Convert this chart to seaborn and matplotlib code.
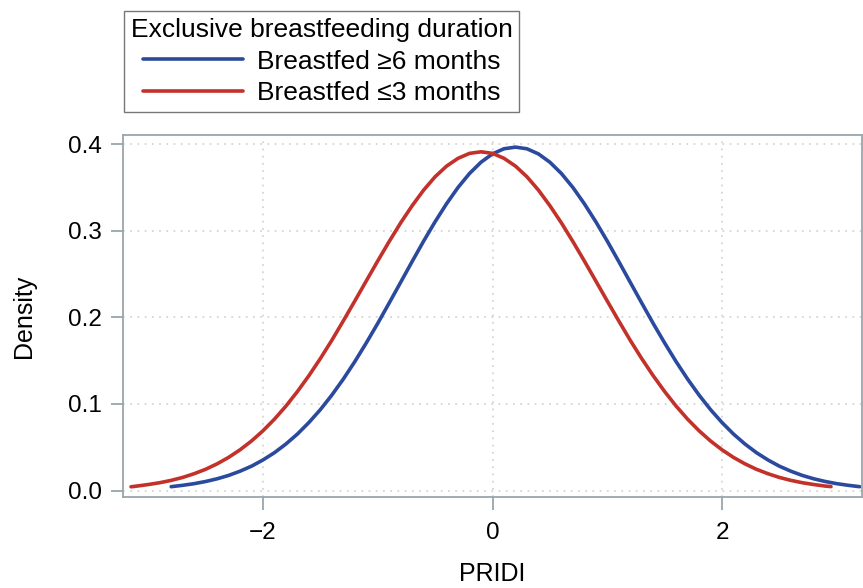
import pandas as pd
import matplotlib.pyplot as plt
import seaborn as sns
from matplotlib.lines import Line2D

# Density curves (PRIDI vs Density)
pridi_6m = [-2.8, -2.7, -2.6, -2.5, -2.4, -2.3, -2.2, -2.1, -2.0, -1.9, -1.8, -1.7, -1.6,
            -1.5, -1.4, -1.3, -1.2, -1.1, -1.0, -0.9, -0.8, -0.7, -0.6, -0.5, -0.4, -0.3,
            -0.2, -0.1, 0.0, 0.1, 0.2, 0.3, 0.4, 0.5, 0.6, 0.7, 0.8, 0.9, 1.0, 1.1, 1.2,
            1.3, 1.4, 1.5, 1.6, 1.7, 1.8, 1.9, 2.0, 2.1, 2.2, 2.3, 2.4, 2.5, 2.6, 2.7, 2.8,
            2.9, 3.0, 3.1, 3.2]
density_6m = [0.0044, 0.0060, 0.0079, 0.0104, 0.0135, 0.0174, 0.0223, 0.0281, 0.0353, 0.0437,
              0.0537, 0.0652, 0.0785, 0.0934, 0.1102, 0.1287, 0.1488, 0.1704, 0.1930, 0.2166,
              0.2405, 0.2645, 0.2880, 0.3104, 0.3312, 0.3500, 0.3661, 0.3791, 0.3887, 0.3946,
              0.3965, 0.3946, 0.3887, 0.3791, 0.3661, 0.3500, 0.3312, 0.3104, 0.2880, 0.2645,
              0.2405, 0.2166, 0.1930, 0.1704, 0.1488, 0.1287, 0.1102, 0.0934, 0.0785, 0.0652,
              0.0537, 0.0437, 0.0353, 0.0281, 0.0223, 0.0174, 0.0135, 0.0104, 0.0079, 0.0060,
              0.0044]

pridi_3m = [-3.15, -3.1, -3.0, -2.9, -2.8, -2.7, -2.6, -2.5, -2.4, -2.3, -2.2, -2.1, -2.0,
            -1.9, -1.8, -1.7, -1.6, -1.5, -1.4, -1.3, -1.2, -1.1, -1.0, -0.9, -0.8, -0.7,
            -0.6, -0.5, -0.4, -0.3, -0.2, -0.1, 0.0, 0.1, 0.2, 0.3, 0.4, 0.5, 0.6, 0.7, 0.8,
            0.9, 1.0, 1.1, 1.2, 1.3, 1.4, 1.5, 1.6, 1.7, 1.8, 1.9, 2.0, 2.1, 2.2, 2.3, 2.4,
            2.5, 2.6, 2.7, 2.8, 2.9, 2.95]
density_3m = [0.0043, 0.0051, 0.0069, 0.0090, 0.0117, 0.0151, 0.0194, 0.0245, 0.0308, 0.0382,
              0.0470, 0.0572, 0.0690, 0.0824, 0.0975, 0.1143, 0.1326, 0.1524, 0.1735, 0.1959,
              0.2188, 0.2420, 0.2651, 0.2876, 0.3091, 0.3289, 0.3469, 0.3623, 0.3746, 0.3836,
              0.3893, 0.3911, 0.3893, 0.3836, 0.3746, 0.3623, 0.3469, 0.3289, 0.3091, 0.2876,
              0.2651, 0.2420, 0.2188, 0.1959, 0.1735, 0.1524, 0.1326, 0.1143, 0.0975, 0.0824,
              0.0690, 0.0572, 0.0470, 0.0382, 0.0308, 0.0245, 0.0194, 0.0151, 0.0117, 0.0090,
              0.0069, 0.0051, 0.0045]

groups = ['Breastfed \u22656 months', 'Breastfed \u22643 months']
colors = ['#2b4a9e', '#c3312b']
x_ticks = [-2, 0, 2]
y_ticks = [0.0, 0.1, 0.2, 0.3, 0.4]

df = pd.concat([
    pd.DataFrame({'PRIDI': pridi_6m, 'Density': density_6m, 'group': groups[0]}),
    pd.DataFrame({'PRIDI': pridi_3m, 'Density': density_3m, 'group': groups[1]}),
])

sns.set_style('white')
plt.rcParams['font.family'] = ['Liberation Sans', 'DejaVu Sans']
plt.rcParams['text.color'] = 'black'
plt.rcParams['axes.labelcolor'] = 'black'

fig = plt.figure(figsize=(8.63, 5.88), dpi=100)
ax = fig.add_axes([123 / 863, 1 - 497 / 588, 739 / 863, 362 / 588])

sns.lineplot(data=df, x='PRIDI', y='Density', hue='group', hue_order=groups,
             palette=colors, linewidth=2.6, sort=False, estimator=None, ax=ax,
             legend=False, solid_joinstyle='round')

ax.set_xlim(-3.22, 3.22)
ax.set_ylim(-0.0075, 0.4105)
ax.set_xticks(x_ticks)
ax.set_xticklabels(['\u22122', '0', '2'])
ax.set_yticks(y_ticks)
ax.set_yticklabels([f'{v:.1f}' for v in y_ticks])
ax.grid(True, color='#d6d6d6', linestyle=(0, (1, 3)), linewidth=1.3)
ax.set_axisbelow(True)

for sp in ax.spines.values():
    sp.set_color('#9aa5ad')
    sp.set_linewidth(1.3)
ax.tick_params(axis='both', length=9, width=1.3, color='#9aa5ad', labelsize=17.5,
               labelcolor='black', direction='out', bottom=True, left=True)
ax.tick_params(axis='x', pad=9)
ax.tick_params(axis='y', pad=6)
ax.set_xlabel('PRIDI', fontsize=18, labelpad=13)
ax.set_ylabel('Density', fontsize=18, labelpad=23)

# Legend box above the plot
handles = [Line2D([], [], color=c, linewidth=2.6) for c in colors]
leg = fig.legend(handles, groups, title='Exclusive breastfeeding duration',
                 loc='upper left', bbox_to_anchor=(124 / 863, 1 - 11 / 588),
                 borderaxespad=0, fontsize=19, title_fontsize=19,
                 handlelength=3.8, handletextpad=0.5, labelspacing=0.3,
                 borderpad=0.25, fancybox=False, frameon=True, alignment='center')
leg.get_frame().set_edgecolor('#555555')
leg.get_frame().set_linewidth(1.0)

plt.savefig('out.png', dpi=100)
